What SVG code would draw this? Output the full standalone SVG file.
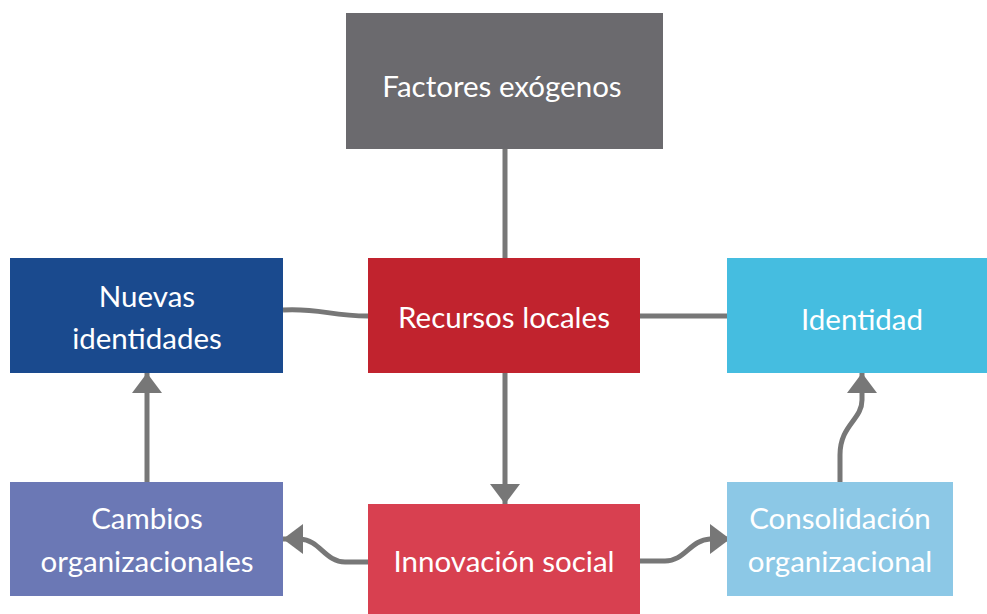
<svg xmlns="http://www.w3.org/2000/svg" width="987" height="614" viewBox="0 0 987 614">
<defs>
<style>
.lbl{font-family:Lato,"Open Sans","Liberation Sans",sans-serif;font-size:29.5px;fill:#ffffff;text-anchor:middle}
.con{fill:none;stroke:#777777;stroke-width:5}
</style>
<marker id="ah" viewBox="0 0 20 30" refX="20" refY="15" markerWidth="20" markerHeight="30" markerUnits="userSpaceOnUse" orient="auto">
<path d="M0,0 L20,15 L0,30 Z" fill="#777777"/>
</marker>
</defs>
<rect width="987" height="614" fill="#ffffff"/>
<g id="connectors">
<path class="con" d="M505,149 L505,258"/>
<path class="con" d="M283,310 C320,308 330,316 368,316"/>
<path class="con" d="M640,316 L727,316"/>
<path class="con" d="M505,373 L505,504" marker-end="url(#ah)"/>
<path class="con" d="M147,482 L147,373" marker-end="url(#ah)"/>
<path class="con" d="M368,562 L345,562 C325,562 320,540 300,539 L283,539" marker-end="url(#ah)"/>
<path class="con" d="M640,561 L665,561 C685,561 690,540 710,539 L730,539" marker-end="url(#ah)"/>
<path class="con" d="M840,482 L840,455 C840,425 862,420 862,400 L862,373" marker-end="url(#ah)"/>
</g>
<g id="factores">
<rect x="346" y="13" width="317" height="136" fill="#6b6a6e"/>
<text class="lbl" x="502" y="97">Factores exógenos</text>
</g>
<g id="recursos">
<rect x="368" y="258" width="272" height="115" fill="#c1232e"/>
<text class="lbl" x="504" y="328">Recursos locales</text>
</g>
<g id="nuevas">
<rect x="10" y="258" width="273" height="115" fill="#1a4a8e"/>
<text class="lbl" x="147" y="307">Nuevas</text>
<text class="lbl" x="147" y="349">identidades</text>
</g>
<g id="identidad">
<rect x="727" y="258" width="262" height="115" fill="#45bde0"/>
<text class="lbl" x="862" y="330">Identidad</text>
</g>
<g id="cambios">
<rect x="10" y="482" width="273" height="114" fill="#6b78b5"/>
<text class="lbl" x="147" y="529">Cambios</text>
<text class="lbl" x="147" y="572">organizacionales</text>
</g>
<g id="innovacion">
<rect x="368" y="504" width="272" height="112" fill="#d84050"/>
<text class="lbl" x="504" y="572">Innovación social</text>
</g>
<g id="consolidacion">
<rect x="727" y="482" width="226" height="114" fill="#8cc8e6"/>
<text class="lbl" x="840" y="529">Consolidación</text>
<text class="lbl" x="840" y="572">organizacional</text>
</g>
</svg>
